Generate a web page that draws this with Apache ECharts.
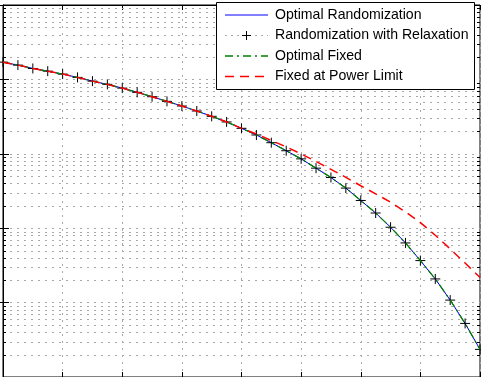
<!DOCTYPE html>
<html>
<head>
<meta charset="utf-8">
<script src="https://cdn.jsdelivr.net/npm/echarts@6/dist/echarts.min.js"></script>
<style>
  html, body { margin: 0; padding: 0; background: #fff; }
  #chart { width: 481px; height: 377px; }
</style>
</head>
<body>
<div id="chart"></div>
<script>
// x positions of the samples
const xValues = [0, 0.25, 0.5, 0.75, 1, 1.25, 1.5, 1.75, 2, 2.25, 2.5, 2.75, 3, 3.25, 3.5, 3.75,
  4, 4.25, 4.5, 4.75, 5, 5.25, 5.5, 5.75, 6, 6.25, 6.5, 6.75, 7, 7.25, 7.5, 7.75, 8];

const optimalRandomization = [0.1706, 0.1556, 0.1403, 0.1291, 0.1178, 0.1064, 0.0948, 0.0857,
  0.0764, 0.0670, 0.0585, 0.0507, 0.0439, 0.0376, 0.0319, 0.0268, 0.0220, 0.0179, 0.0141,
  0.0110, 0.00855, 0.00641, 0.00480, 0.00346, 0.00236, 0.00160, 0.00103, 0.000634,
  0.000367, 0.000208, 0.000108, 0.0000525, 0.0000235];

const randomizationRelaxation = [0.1706, 0.1556, 0.1403, 0.1291, 0.1178, 0.1064, 0.0948, 0.0857,
  0.0764, 0.0670, 0.0585, 0.0507, 0.0439, 0.0376, 0.0319, 0.0268, 0.0220, 0.0179, 0.0141,
  0.0110, 0.00855, 0.00641, 0.00480, 0.00346, 0.00236, 0.00160, 0.00103, 0.000634,
  0.000367, 0.000208, 0.000108, 0.0000525, 0.0000235];

const optimalFixed = [0.1706, 0.1556, 0.1403, 0.1291, 0.1178, 0.1064, 0.0948, 0.0857,
  0.0764, 0.0670, 0.0585, 0.0507, 0.0439, 0.0376, 0.0319, 0.0268, 0.0220, 0.0179, 0.0141,
  0.0110, 0.00855, 0.00641, 0.00480, 0.00346, 0.00236, 0.00160, 0.00103, 0.000634,
  0.000367, 0.000208, 0.000108, 0.0000525, 0.0000235];

const fixedPowerLimit = [0.1706, 0.1556, 0.1403, 0.1291, 0.1178, 0.1064, 0.0948, 0.0857,
  0.0764, 0.0670, 0.0585, 0.0507, 0.0439, 0.0376, 0.0319, 0.0268, 0.0220, 0.01849, 0.01513,
  0.01239, 0.00997, 0.00791, 0.00618, 0.00483, 0.00372, 0.00290, 0.00223, 0.00166,
  0.00119, 0.000805, 0.000526, 0.000340, 0.000217];

const legendNames = ['Optimal Randomization', 'Randomization with Relaxation', 'Optimal Fixed', 'Fixed at Power Limit'];

// minor log grid: 2..9 in each decade
const minorGrid = [];
for (let d = -5; d <= -1; d++) {
  for (let k = 2; k <= 9; k++) minorGrid.push(k * Math.pow(10, d));
}

const pairs = ys => xValues.map((x, i) => [x, ys[i]]);

const chart = echarts.init(document.getElementById('chart'));

const gridColor = '#a8a8a8';
const dots = [2, 5];
const font = '14.1px "Liberation Sans", Arial, sans-serif';

// legend drawn by hand (MATLAB style box)
const lx1 = 225, lx2 = 268, tx = 275;
const rows = [15, 35.5, 56, 76.5];
const legend = [
  { type: 'rect', z: 100, shape: { x: 216.5, y: 2.5, width: 258, height: 87 },
    style: { fill: '#fff', stroke: '#000', lineWidth: 1 } },
  { type: 'line', z: 101, shape: { x1: lx1, y1: rows[0], x2: lx2, y2: rows[0] },
    style: { stroke: '#0000ff', lineWidth: 1 } },
  { type: 'line', z: 101, shape: { x1: lx1, y1: rows[1], x2: lx2, y2: rows[1] },
    style: { stroke: '#aaa', lineWidth: 1, lineDash: [2, 4] } },
  { type: 'line', z: 102, shape: { x1: 242, y1: rows[1], x2: 251, y2: rows[1] },
    style: { stroke: '#000', lineWidth: 1 } },
  { type: 'line', z: 102, shape: { x1: 246.5, y1: rows[1] - 4.5, x2: 246.5, y2: rows[1] + 4.5 },
    style: { stroke: '#000', lineWidth: 1 } },
  { type: 'line', z: 101, shape: { x1: lx1, y1: rows[2], x2: lx2, y2: rows[2] },
    style: { stroke: '#008000', lineWidth: 1.3, lineDash: [8, 4, 2, 4] } },
  { type: 'line', z: 101, shape: { x1: lx1, y1: rows[3], x2: lx2, y2: rows[3] },
    style: { stroke: '#ff0000', lineWidth: 1.5, lineDash: [9, 6] } }
];
legendNames.forEach((name, i) => {
  legend.push({ type: 'text', z: 101, x: tx, y: rows[i],
    style: { text: name, font: font, fill: '#000', textVerticalAlign: 'middle' } });
});

const option = {
  backgroundColor: '#ffffff',
  animation: false,
  grid: { left: 3, top: 5, width: 477, height: 373, show: true, borderColor: '#000', borderWidth: 1 },
  xAxis: [{
    type: 'value', min: 0, max: 8, interval: 1,
    axisLabel: { show: false },
    axisLine: { lineStyle: { color: '#000' } },
    axisTick: { inside: true, length: 5, lineStyle: { color: '#000' } },
    splitLine: { show: true, lineStyle: { color: gridColor, type: dots } }
  }, {
    type: 'value', position: 'top', min: 0, max: 8, interval: 1,
    axisLabel: { show: false },
    axisLine: { lineStyle: { color: '#000' } },
    axisTick: { inside: true, length: 5, lineStyle: { color: '#000' } },
    splitLine: { show: false }
  }],
  yAxis: [{
    type: 'log', logBase: 10, min: 1e-5, max: 1,
    axisLabel: { show: false },
    axisLine: { lineStyle: { color: '#000' } },
    axisTick: { inside: true, length: 6, lineStyle: { color: '#000' } },
    splitLine: { show: true, lineStyle: { color: gridColor, type: dots } }
  }, {
    type: 'log', logBase: 10, position: 'right', min: 1e-5, max: 1,
    axisLabel: { show: false },
    axisLine: { lineStyle: { color: '#000' } },
    axisTick: { inside: true, length: 6, lineStyle: { color: '#000' } },
    splitLine: { show: false }
  }],
  graphic: legend,
  series: [
    {
      type: 'custom', silent: true, z: 1,
      data: minorGrid.map(v => [0, v]),
      renderItem: function (params, api) {
        const cs = params.coordSys;
        const y = Math.round(api.coord([0, api.value(1)])[1]) + 0.5;
        return {
          type: 'group',
          children: [
            { type: 'line', shape: { x1: cs.x, y1: y, x2: cs.x + cs.width, y2: y },
              style: { stroke: gridColor, lineWidth: 1, lineDash: dots } },
            { type: 'line', shape: { x1: cs.x, y1: y, x2: cs.x + 3, y2: y },
              style: { stroke: '#000', lineWidth: 1 } },
            { type: 'line', shape: { x1: cs.x + cs.width - 3, y1: y, x2: cs.x + cs.width, y2: y },
              style: { stroke: '#000', lineWidth: 1 } }
          ]
        };
      }
    },
    {
      name: legendNames[0], type: 'line', data: pairs(optimalRandomization),
      showSymbol: false, z: 3,
      lineStyle: { color: '#0000ff', width: 1 }
    },
    {
      name: legendNames[1], type: 'line', data: pairs(randomizationRelaxation),
      symbol: 'path://M0,5L10,5M5,0L5,10', symbolSize: 10, showAllSymbol: true, z: 4,
      itemStyle: { color: 'none', borderColor: '#000', borderWidth: 1 },
      lineStyle: { color: '#000', width: 0.5, type: [1, 3] }
    },
    {
      name: legendNames[2], type: 'line', data: pairs(optimalFixed),
      showSymbol: false, z: 5,
      lineStyle: { color: '#008000', width: 1.3, type: [8, 4, 2, 4] }
    },
    {
      name: legendNames[3], type: 'line', data: pairs(fixedPowerLimit),
      showSymbol: false, z: 6,
      lineStyle: { color: '#ff0000', width: 1.5, type: [9, 6] }
    }
  ]
};

chart.setOption(option);
</script>
</body>
</html>
